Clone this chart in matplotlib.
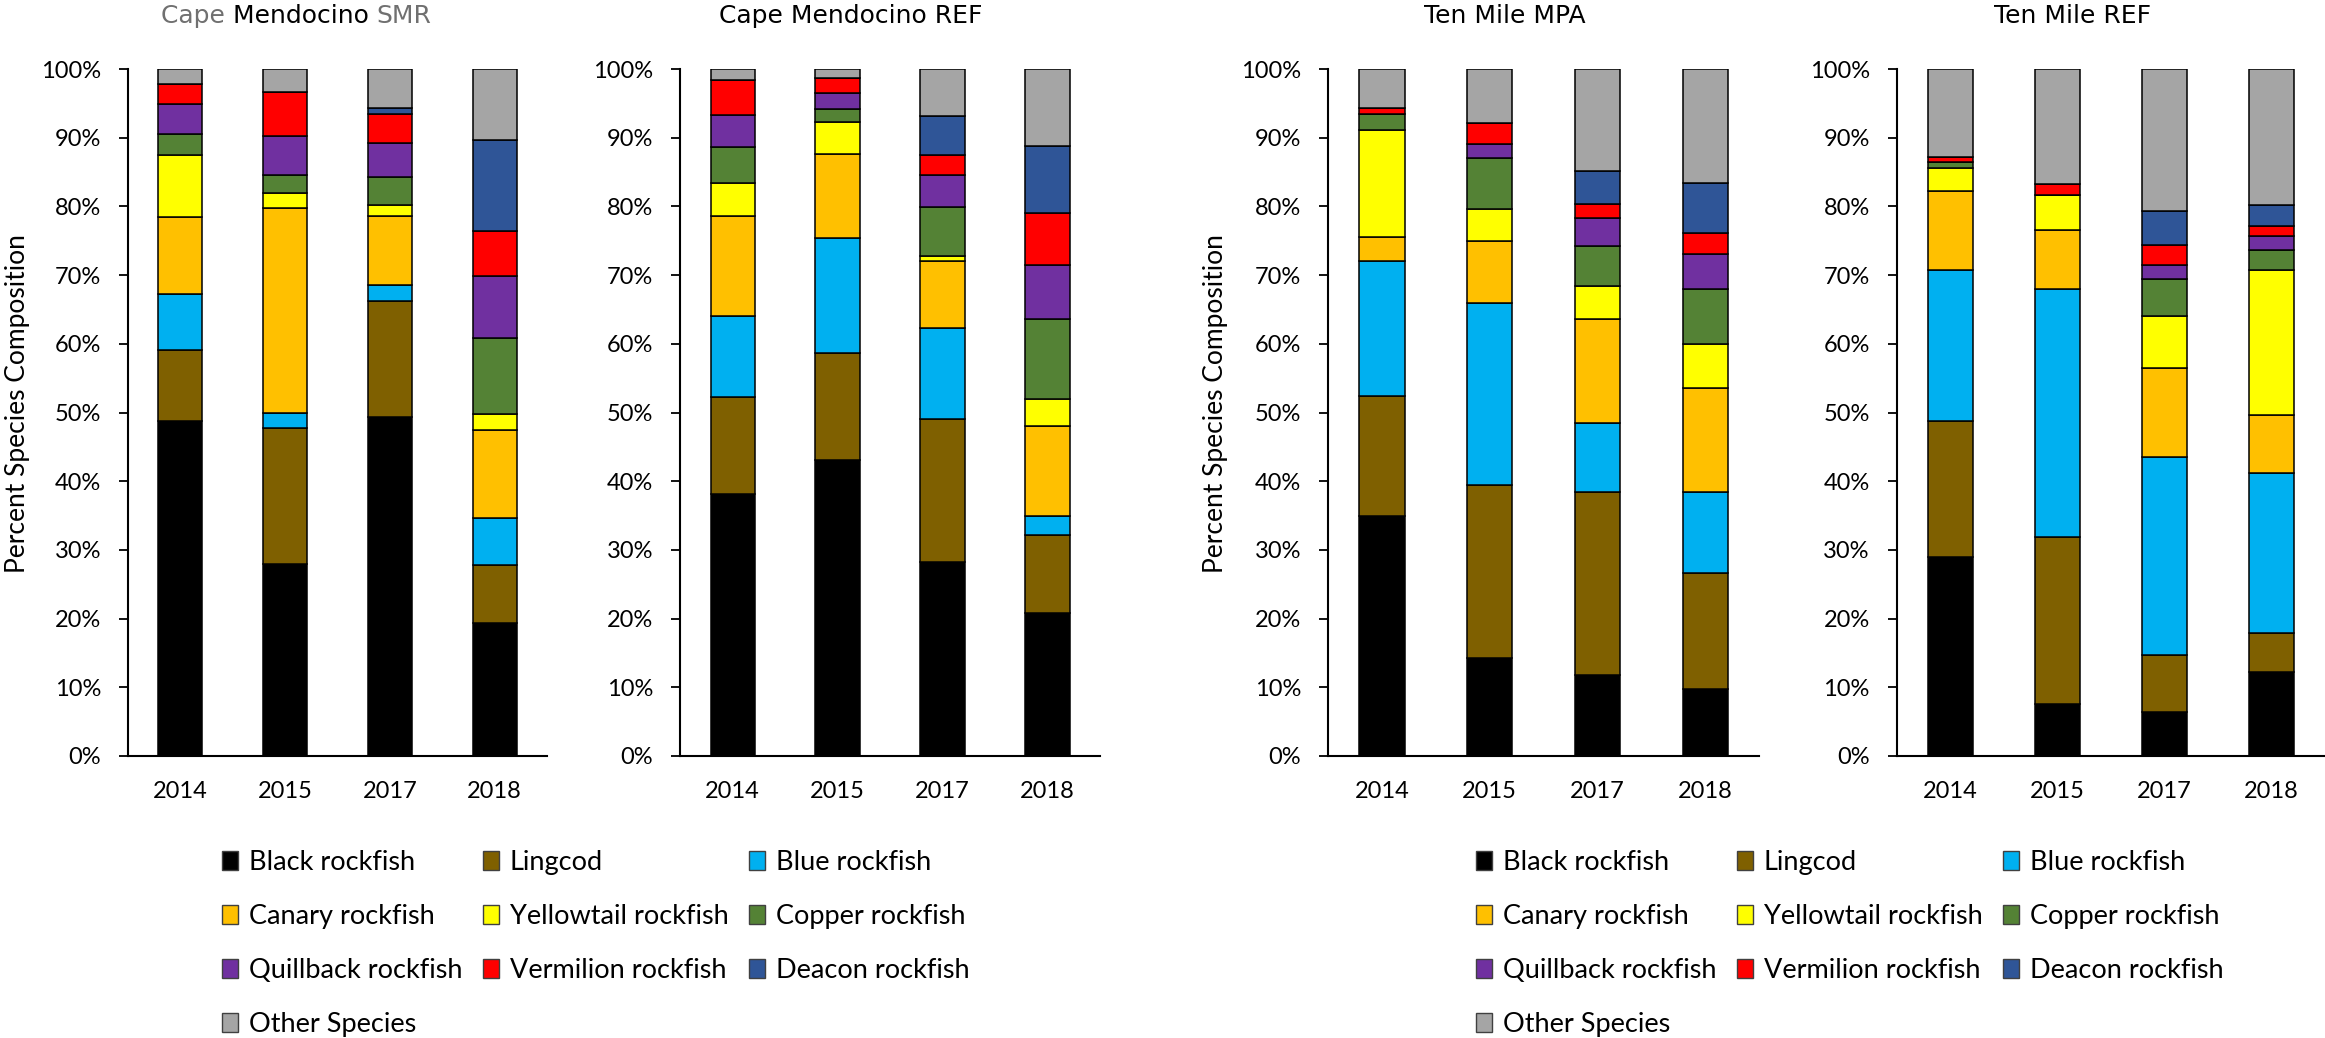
import matplotlib
matplotlib.use("Agg")
import matplotlib.pyplot as plt
from matplotlib.patches import Patch
from matplotlib.ticker import PercentFormatter, MultipleLocator

years = ['2014', '2015', '2017', '2018']
species = ['Black rockfish', 'Lingcod', 'Blue rockfish', 'Canary rockfish',
           'Yellowtail rockfish', 'Copper rockfish', 'Quillback rockfish',
           'Vermilion rockfish', 'Deacon rockfish', 'Other Species']
colors = ['#000000', '#7F6000', '#00B0F0', '#FFC000', '#FFFF00',
          '#548235', '#7030A0', '#FF0000', '#2F5597', '#A5A5A5']

# percent composition, one row per species (bottom to top), one column per year
cape_smr = [
    [48.8, 28.0, 49.4, 19.3],
    [10.3, 19.8, 16.8, 8.5],
    [8.1, 2.2, 2.3, 6.8],
    [11.2, 29.7, 10.1, 12.9],
    [9.1, 2.2, 1.6, 2.3],
    [3.0, 2.7, 4.1, 11.0],
    [4.4, 5.6, 5.0, 9.0],
    [2.9, 6.5, 4.1, 6.6],
    [0.0, 0.0, 0.9, 13.2],
    [2.2, 3.3, 5.7, 10.4],
]
cape_ref = [
    [38.2, 43.1, 28.3, 20.8],
    [14.0, 15.5, 20.8, 11.4],
    [11.9, 16.8, 13.2, 2.7],
    [14.5, 12.3, 9.8, 13.1],
    [4.8, 4.6, 0.7, 4.0],
    [5.2, 1.9, 7.1, 11.6],
    [4.7, 2.3, 4.7, 7.8],
    [5.1, 2.2, 2.9, 7.6],
    [0.0, 0.0, 5.6, 9.8],
    [1.6, 1.3, 6.9, 11.2],
]
ten_mpa = [
    [35.0, 14.2, 11.8, 9.7],
    [17.4, 25.3, 26.7, 16.9],
    [19.6, 26.5, 9.9, 11.9],
    [3.5, 8.9, 15.2, 15.0],
    [15.6, 4.7, 4.8, 6.4],
    [2.3, 7.4, 5.8, 8.1],
    [0.0, 2.1, 4.1, 5.1],
    [0.9, 3.0, 2.0, 3.0],
    [0.0, 0.0, 4.8, 7.3],
    [5.7, 7.9, 14.9, 16.6],
]
ten_ref = [
    [28.9, 7.5, 6.4, 12.2],
    [19.9, 24.4, 8.3, 5.7],
    [22.0, 36.1, 28.8, 23.3],
    [11.5, 8.5, 13.0, 8.4],
    [3.3, 5.2, 7.6, 21.1],
    [0.9, 0.0, 5.4, 3.0],
    [0.0, 0.0, 2.0, 2.0],
    [0.7, 1.5, 2.9, 1.5],
    [0.0, 0.0, 4.9, 3.0],
    [12.8, 16.8, 20.7, 19.8],
]

sites = [cape_smr, cape_ref, ten_mpa, ten_ref]
titles = ['Cape Mendocino SMR', 'Cape Mendocino REF', 'Ten Mile MPA', 'Ten Mile REF']
text_font = ['Lato', 'DejaVu Sans']

fig = plt.figure(figsize=(23.25, 10.38), dpi=100)

boxes = [[0.0551, 0.2717, 0.1802, 0.6618],
         [0.2925, 0.2717, 0.1806, 0.6618],
         [0.5712, 0.2717, 0.1854, 0.6618],
         [0.8159, 0.2717, 0.1841, 0.6618]]

for box, data in zip(boxes, sites):
    ax = fig.add_axes(box)
    x = range(len(years))
    bottom = [0.0] * len(years)
    for vals, c in zip(data, colors):
        ax.bar(x, vals, width=0.42, bottom=bottom, color=c,
               edgecolor='black', linewidth=1.1)
        bottom = [b + v for b, v in zip(bottom, vals)]
    ax.set_xlim(-0.5, 3.5)
    ax.set_ylim(0, 100)
    ax.set_xticks(list(x))
    ax.set_xticklabels(years, fontfamily=text_font, fontsize=17)
    ax.yaxis.set_major_locator(MultipleLocator(10))
    ax.yaxis.set_major_formatter(PercentFormatter(xmax=100, decimals=0))
    for lab in ax.get_yticklabels():
        lab.set_fontfamily(text_font)
        lab.set_fontsize(17)
    ax.tick_params(axis='x', length=0, pad=18)
    ax.tick_params(axis='y', length=6.5, width=1.3, pad=13, direction='out')
    ax.spines['top'].set_visible(False)
    ax.spines['right'].set_visible(False)
    ax.spines['left'].set_linewidth(1.5)
    ax.spines['bottom'].set_linewidth(1.5)

# first title has grey and black parts, chained left to right
t1 = fig.text(161 / 2325, 0.985, 'Cape ', fontsize=18, color='#707070', va='center', ha='left')
a1 = plt.annotate('Mendocino ', xy=(1, 0.5), xycoords=t1, xytext=(0, 0), textcoords='offset points',
                  fontsize=18, color='black', va='center', ha='left', annotation_clip=False)
plt.annotate('SMR', xy=(1, 0.5), xycoords=a1, xytext=(0, 0), textcoords='offset points',
             fontsize=18, color='#707070', va='center', ha='left', annotation_clip=False)
for xc, t in zip([851, 1505, 2073], titles[1:]):
    fig.text(xc / 2325, 0.985, t, fontsize=18, ha='center', va='center')

for xc in [18, 1215]:
    fig.text(xc / 2325, 0.611, 'Percent Species Composition', rotation=90,
             fontfamily=text_font, fontsize=19, ha='center', va='center')

handles = [Patch(facecolor=c, edgecolor='#404040', linewidth=1.0) for c in colors]
order = [0, 3, 6, 9, 1, 4, 7, 2, 5, 8]
for lx in [222, 1476]:
    fig.legend([handles[i] for i in order], [species[i] for i in order],
               loc='upper left', bbox_to_anchor=(lx / 2325, 1 - 850 / 1038),
               ncol=3, frameon=False, borderpad=0, borderaxespad=0,
               handlelength=0.6, handleheight=0.7, handletextpad=0.4,
               columnspacing=0.75, labelspacing=1.07,
               prop={'family': text_font, 'size': 19.5})

fig.savefig('out.png', dpi=100)
